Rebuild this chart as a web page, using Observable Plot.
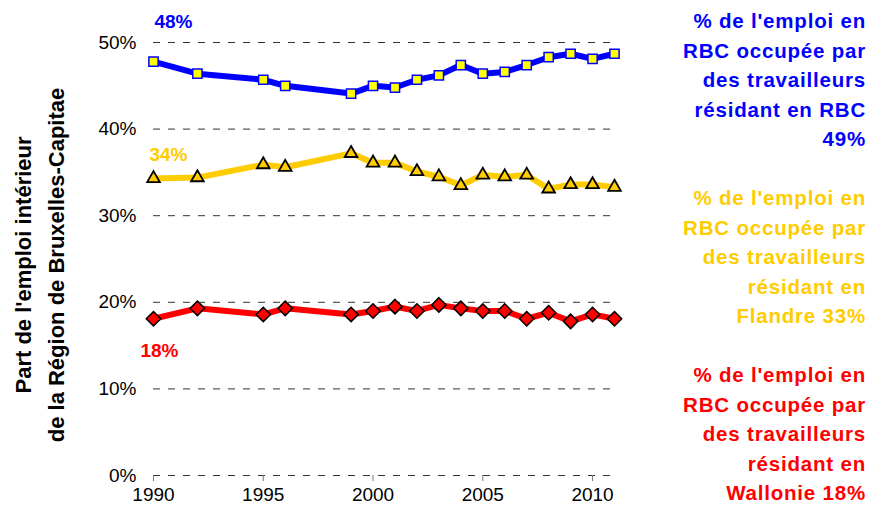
<!DOCTYPE html>
<html>
<head>
<meta charset="utf-8">
<script src="https://cdn.jsdelivr.net/npm/d3@7"></script>
<script src="https://cdn.jsdelivr.net/npm/@observablehq/plot@0.6"></script>
<style>
  html, body { margin: 0; padding: 0; background: #fff; }
  #wrap { position: relative; width: 871px; height: 515px; font-family: "Liberation Sans", Arial, sans-serif; }
  #legend { position: absolute; right: 5px; top: 6px; text-align: right; font-weight: bold; font-size: 20.5px; line-height: 29.5px; letter-spacing: 0.8px; }
  #legend div { margin-bottom: 29.5px; }
</style>
</head>
<body>
<div id="wrap">
  <div id="chart"></div>
  <div id="legend"></div>
</div>
<script>
const years = [1990, 1992, 1995, 1996, 1999, 2000, 2001, 2002, 2003, 2004, 2005, 2006, 2007, 2008, 2009, 2010, 2011];
const rbc      = [47.8, 46.4, 45.7, 45.0, 44.1, 45.0, 44.8, 45.7, 46.2, 47.4, 46.4, 46.6, 47.4, 48.3, 48.7, 48.1, 48.7];
const flandre  = [34.3, 34.4, 35.9, 35.6, 37.2, 36.1, 36.1, 35.1, 34.5, 33.5, 34.7, 34.5, 34.7, 33.1, 33.6, 33.6, 33.3];
const wallonie = [18.1, 19.3, 18.6, 19.3, 18.6, 19.0, 19.5, 19.0, 19.7, 19.3, 19.0, 19.0, 18.1, 18.8, 17.8, 18.6, 18.1];
const seriesNames = ["RBC", "Flandre", "Wallonie"];
const seriesColors = ["#0000ff", "#ffcc00", "#ff0000"];
const startLabels = ["48%", "34%", "18%"];
const legendTexts = [
  "% de l'emploi en<br>RBC occupée par<br>des travailleurs<br>résidant en RBC<br>49%",
  "% de l'emploi en<br>RBC occupée par<br>des travailleurs<br>résidant en<br>Flandre 33%",
  "% de l'emploi en<br>RBC occupée par<br>des travailleurs<br>résidant en<br>Wallonie 18%"
];
const yTicks = [0, 10, 20, 30, 40, 50];
const xTicks = [1990, 1995, 2000, 2005, 2010];
const yLabel = "Part de l'emploi intérieur\nde la Région de Bruxelles-Capitae";

const toRows = (vals, s) => years.map((y, i) => ({year: y, value: vals[i], series: s}));
const rowsRBC = toRows(rbc, "RBC");
const rowsFl = toRows(flandre, "Flandre");
const rowsWa = toRows(wallonie, "Wallonie");

const font = "Liberation Sans, Arial, sans-serif";

const chart = Plot.plot({
  width: 871,
  height: 515,
  marginLeft: 153,
  marginRight: 257,
  marginTop: 42,
  marginBottom: 40,
  style: {fontFamily: font, background: "white", overflow: "visible"},
  x: {domain: [1990, 2011]},
  y: {domain: [0, 50]},
  marks: [
    Plot.gridY(yTicks, {stroke: "#333", strokeOpacity: 1, strokeDasharray: "7,8", strokeWidth: 1}),
    Plot.axisY(yTicks, {tickSize: 0, tickPadding: 17, fontSize: 19, fill: "#000", tickFormat: d => d + "%", label: null}),
    Plot.axisX(xTicks, {tickSize: 6, stroke: "#777", tickPadding: 6, fontSize: 19, fill: "#000", tickFormat: d => String(d), label: null}),
    Plot.text([yLabel], {frameAnchor: "left", textAnchor: "middle", lineAnchor: "middle", rotate: -90, dx: -117, dy: 6, fontSize: 22, fontWeight: "bold", lineHeight: 1.5, fill: "#000"}),
    Plot.line(rowsRBC, {x: "year", y: "value", stroke: seriesColors[0], strokeWidth: 6}),
    Plot.line(rowsFl, {x: "year", y: "value", stroke: seriesColors[1], strokeWidth: 6}),
    Plot.line(rowsWa, {x: "year", y: "value", stroke: seriesColors[2], strokeWidth: 6}),
    Plot.dot(rowsRBC, {x: "year", y: "value", symbol: "square", r: 5.2, fill: "#ffff00", stroke: seriesColors[0], strokeWidth: 1.5}),
    Plot.dot(rowsFl, {x: "year", y: "value", symbol: "triangle", r: 4.7, fill: seriesColors[1], stroke: "#000", strokeWidth: 1.8}),
    Plot.dot(rowsWa, {x: "year", y: "value", symbol: "diamond2", r: 6.5, fill: seriesColors[2], stroke: "#000", strokeWidth: 1.5}),
    Plot.text(rowsRBC.slice(0, 1), {x: "year", y: "value", text: () => startLabels[0], dx: 20, dy: -40, fill: seriesColors[0], fontSize: 19, fontWeight: "bold"}),
    Plot.text(rowsFl.slice(0, 1), {x: "year", y: "value", text: () => startLabels[1], dx: 15, dy: -24, fill: seriesColors[1], fontSize: 19, fontWeight: "bold"}),
    Plot.text(rowsWa.slice(0, 1), {x: "year", y: "value", text: () => startLabels[2], dx: 6, dy: 32, fill: seriesColors[2], fontSize: 19, fontWeight: "bold"})
  ]
});
document.getElementById("chart").appendChild(chart);

const legend = document.getElementById("legend");
legendTexts.forEach((t, i) => {
  const d = document.createElement("div");
  d.innerHTML = t;
  d.style.color = seriesColors[i];
  legend.appendChild(d);
});
</script>
</body>
</html>
